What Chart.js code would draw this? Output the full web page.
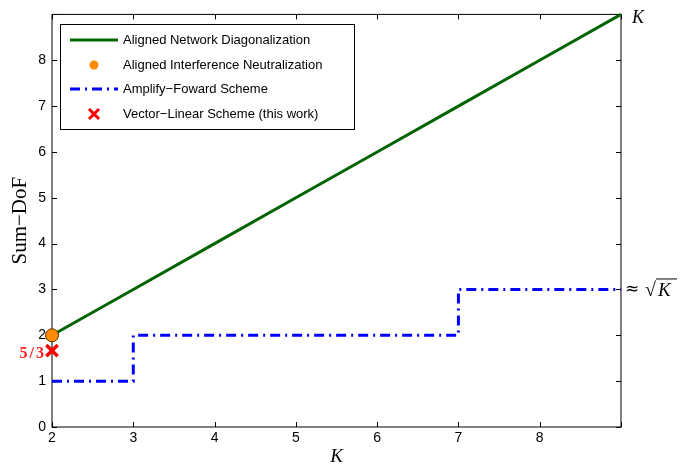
<!DOCTYPE html>
<html>
<head>
<meta charset="utf-8">
<script src="https://cdn.jsdelivr.net/npm/chart.js@4.4.0/dist/chart.umd.min.js"></script>
<style>
    html, body { margin: 0; padding: 0; background: #fff; }
</style>
</head>
<body>
<canvas id="graphique-dof" width="680" height="466"></canvas>
<script>
// Valeurs
const valeursK = [2, 3, 4, 5, 6, 7, 8, 9];
const dofAND = [2, 3, 4, 5, 6, 7, 8, 9];      // Aligned Network Diagonalization
const dofAF = [1, 2, 2, 2, 2, 3, 3, 3];       // Amplify-Foward (en escalier)
const pointAIN = [{ x: 2, y: 2 }];            // Aligned Interference Neutralization
const pointVL = [{ x: 2, y: 5 / 3 }];         // Vector-Linear Scheme
const ticksX = [2, 3, 4, 5, 6, 7, 8];
const ticksY = [0, 1, 2, 3, 4, 5, 6, 7, 8];
const libelles = [
    "Aligned Network Diagonalization",
    "Aligned Interference Neutralization",
    "Amplify\u2212Foward Scheme",
    "Vector\u2212Linear Scheme (this work)"
];

const police = "'Liberation Sans', Arial, sans-serif";
const serif = "'Liberation Serif', 'Times New Roman', serif";

// Cadre et graduations internes (sous les courbes)
const pluginCadre = {
    id: "cadre",
    beforeDatasetsDraw(chart) {
        const ctx = chart.ctx;
        const a = chart.chartArea;
        const sx = chart.scales.x;
        const sy = chart.scales.y;
        ctx.save();
        ctx.strokeStyle = "#000";
        ctx.lineWidth = 1;
        ctx.strokeRect(a.left, a.top, a.right - a.left, a.bottom - a.top);
        ctx.beginPath();
        for (const v of valeursK) {
            const px = Math.round(sx.getPixelForValue(v)) + 0.5;
            ctx.moveTo(px, a.bottom); ctx.lineTo(px, a.bottom - 5);
            ctx.moveTo(px, a.top); ctx.lineTo(px, a.top + 5);
        }
        for (const v of ticksY.concat([9])) {
            const py = Math.round(sy.getPixelForValue(v)) + 0.5;
            ctx.moveTo(a.left, py); ctx.lineTo(a.left + 5, py);
            ctx.moveTo(a.right, py); ctx.lineTo(a.right - 5, py);
        }
        ctx.stroke();
        ctx.restore();
    },
    // Annotations et légende
    afterDraw(chart) {
        const ctx = chart.ctx;
        const a = chart.chartArea;
        const sx = chart.scales.x;
        const sy = chart.scales.y;
        ctx.save();
        ctx.fillStyle = "#000";
        ctx.strokeStyle = "#000";
        ctx.textBaseline = "middle";
        ctx.textAlign = "left";
        ctx.font = "italic 18px " + serif;
        ctx.fillText("K", sx.getPixelForValue(9) + 11, sy.getPixelForValue(9) + 4);

        const yRacine = sy.getPixelForValue(3);
        const xRacine = sx.getPixelForValue(9) + 4;
        ctx.font = "17px 'DejaVu Serif', serif";
        ctx.fillText("\u2248", xRacine, yRacine);
        ctx.font = "20px " + serif;
        ctx.fillText("\u221A", xRacine + 20, yRacine + 1);
        ctx.font = "italic 19px " + serif;
        ctx.fillText("K", xRacine + 33, yRacine + 2);
        ctx.beginPath();
        ctx.lineWidth = 1;
        ctx.moveTo(xRacine + 31, yRacine - 10.5);
        ctx.lineTo(xRacine + 52, yRacine - 10.5);
        ctx.stroke();

        ctx.fillStyle = "#ff2020";
        ctx.font = "bold 16px " + serif;
        ctx.textAlign = "right";
        ctx.letterSpacing = "2px";
        ctx.fillText("5/3", a.left - 6, sy.getPixelForValue(5 / 3) + 3);
        ctx.letterSpacing = "0px";

        // Légende
        const lx = 60, ly = 24, lw = 294, lh = 105;
        ctx.fillStyle = "#fff";
        ctx.fillRect(lx, ly, lw, lh);
        ctx.lineWidth = 1;
        ctx.strokeStyle = "#000";
        ctx.strokeRect(lx + 0.5, ly + 0.5, lw, lh);
        const lignes = [40, 65, 89, 114];
        const ds = chart.data.datasets;
        ctx.font = "13px " + police;
        ctx.textAlign = "left";
        for (let i = 0; i < ds.length; i++) {
            const y = lignes[i];
            if (ds[i].showLine !== false) {
                ctx.beginPath();
                ctx.strokeStyle = ds[i].borderColor;
                ctx.lineWidth = ds[i].borderWidth;
                ctx.setLineDash(ds[i].borderDash || []);
                ctx.moveTo(70, y);
                ctx.lineTo(118, y);
                ctx.stroke();
                ctx.setLineDash([]);
            } else if (ds[i].pointStyle === "crossRot") {
                ctx.beginPath();
                ctx.strokeStyle = ds[i].borderColor;
                ctx.lineWidth = 3;
                ctx.moveTo(89, y - 5); ctx.lineTo(99, y + 5);
                ctx.moveTo(99, y - 5); ctx.lineTo(89, y + 5);
                ctx.stroke();
            } else {
                ctx.beginPath();
                ctx.fillStyle = ds[i].backgroundColor;
                ctx.arc(94, y, 4.5, 0, Math.PI * 2);
                ctx.fill();
            }
            ctx.fillStyle = "#000";
            ctx.fillText(ds[i].label, 123, y);
        }
        ctx.restore();
    }
};

const data = {
    datasets: [
        {
            label: libelles[0],
            data: valeursK.map((k, i) => ({ x: k, y: dofAND[i] })),
            borderColor: "#006400",
            borderWidth: 3,
            pointRadius: 0,
            order: 4,
            clip: false
        },
        {
            label: libelles[1],
            data: pointAIN,
            showLine: false,
            backgroundColor: "#ff8c00",
            borderColor: "#5a3000",
            borderWidth: 1,
            pointRadius: 6.5,
            order: 1,
            clip: false
        },
        {
            label: libelles[2],
            data: valeursK.map((k, i) => ({ x: k, y: dofAF[i] })),
            borderColor: "#0000ff",
            borderWidth: 3,
            borderDash: [10, 5, 2, 5],
            stepped: "before",
            pointRadius: 0,
            order: 3
        },
        {
            label: libelles[3],
            data: pointVL,
            showLine: false,
            pointStyle: "crossRot",
            borderColor: "#ff0000",
            borderWidth: 3.5,
            pointRadius: 8,
            order: 2,
            clip: false
        }
    ]
};

const config = {
    type: "line",
    data: data,
    options: {
        responsive: false,
        animation: false,
        layout: { padding: { top: 13, right: 59, left: 0, bottom: 0 } },
        plugins: { legend: { display: false }, tooltip: { enabled: false } },
        scales: {
            x: {
                type: "linear",
                min: 2,
                max: 9,
                afterBuildTicks: s => { s.ticks = ticksX.map(v => ({ value: v })); },
                afterFit: s => { s.height = 39; },
                grid: { display: false, drawTicks: false },
                border: { display: false },
                ticks: { color: "#000", padding: 3, font: { family: police, size: 14 } },
                title: {
                    display: true,
                    text: "K",
                    color: "#000",
                    padding: 0,
                    font: { family: serif, size: 19, style: "italic", lineHeight: 1 }
                }
            },
            y: {
                type: "linear",
                min: 0,
                max: 9,
                afterBuildTicks: s => { s.ticks = ticksY.map(v => ({ value: v })); },
                afterFit: s => { s.width = 52; },
                grid: { display: false, drawTicks: false },
                border: { display: false },
                ticks: { color: "#000", padding: 6, font: { family: police, size: 14 } },
                title: {
                    display: true,
                    text: "Sum\u2212DoF",
                    color: "#000",
                    padding: { top: 8, bottom: 0 },
                    font: { family: serif, size: 21 }
                }
            }
        }
    },
    plugins: [pluginCadre]
};

const graphiqueDof = new Chart(document.getElementById("graphique-dof"), config);
</script>
</body>
</html>
